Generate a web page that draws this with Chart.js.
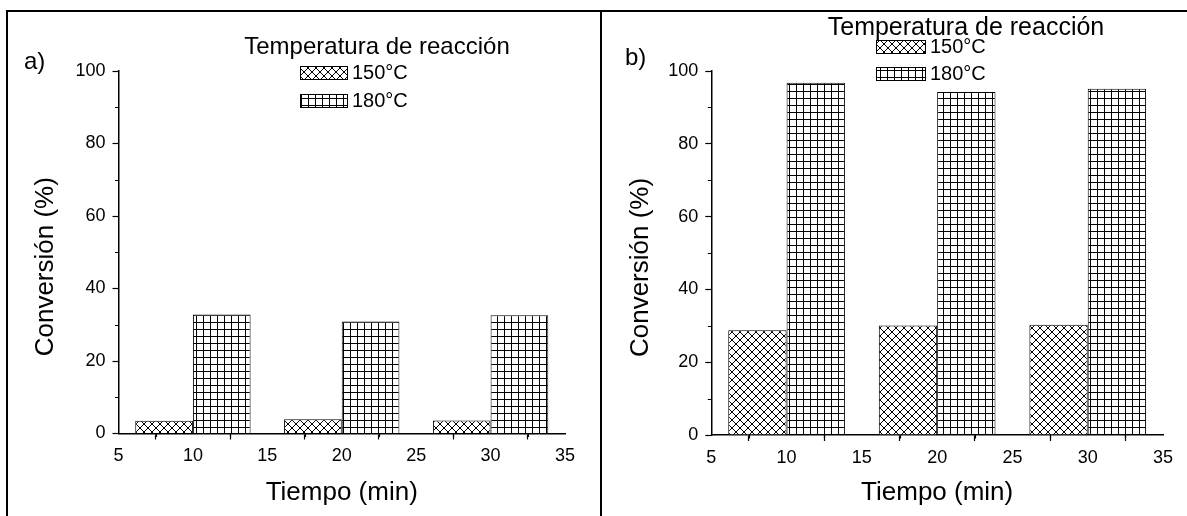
<!DOCTYPE html>
<html><head><meta charset="utf-8">
<script src="https://cdn.jsdelivr.net/npm/chart.js@4.4.0/dist/chart.umd.min.js"></script>
<style>
html,body{margin:0;padding:0;background:#fff;width:1187px;height:516px;overflow:hidden;font-family:"Liberation Sans",Arial,sans-serif}
#frame{position:absolute;left:6px;top:10px;width:1181px;height:506px;border-left:2px solid #000;border-top:2px solid #000;box-sizing:border-box}
#divider{position:absolute;left:600px;top:10px;width:2px;height:506px;background:#000}
.wrap{position:absolute;top:0;height:516px}
.plabel{position:absolute;font-size:24px;color:#000;line-height:28px}
</style></head>
<body>
<div id="frame"></div><div id="divider"></div>
<div class="wrap" style="left:0;width:600px"><canvas id="ca"></canvas></div>
<div class="wrap" style="left:600px;width:587px"><canvas id="cb"></canvas></div>
<div class="plabel" style="left:24px;top:47px">a)</div>
<div class="plabel" style="left:625px;top:43px">b)</div>
<script>
// ---- data ----
const times = [10, 20, 30];
const seriesLabels = ['150°C', '180°C'];
const convA150 = [3.5, 3.9, 3.6];
const convA180 = [32.8, 30.9, 32.6];
const convB150 = [28.8, 30.1, 30.3];
const convB180 = [96.8, 94.2, 95.1];
const xMajor = [5, 10, 15, 20, 25, 30, 35];
const xMinor = [7.5, 12.5, 17.5, 22.5, 27.5, 32.5];
const yMajor = [0, 20, 40, 60, 80, 100];
const yMinor = [10, 30, 50, 70, 90];
const legendTitle = 'Temperatura de reacción';
const xTitle = 'Tiempo (min)';
const yTitle = 'Conversión (%)';

const FONT = '"Liberation Sans", Arial, sans-serif';

function crossPattern(size){
  const c = document.createElement('canvas'); c.width = c.height = size;
  const g = c.getContext('2d');
  g.fillStyle = '#fff'; g.fillRect(0,0,size,size);
  g.strokeStyle = '#000'; g.lineWidth = 1;
  g.beginPath();
  g.moveTo(-1,-1); g.lineTo(size+1,size+1);
  g.moveTo(size+1,-1); g.lineTo(-1,size+1);
  g.stroke();
  return g.createPattern(c,'repeat');
}
function gridPattern(size){
  const c = document.createElement('canvas'); c.width = c.height = size;
  const g = c.getContext('2d');
  g.fillStyle = '#fff'; g.fillRect(0,0,size,size);
  g.fillStyle = '#000';
  g.fillRect(0,0,size,1); g.fillRect(0,0,1,size);
  return g.createPattern(c,'repeat');
}

const minorTicks = {
  id: 'minorTicks',
  afterDraw(chart){
    const ctx = chart.ctx, xs = chart.scales.x, ys = chart.scales.y;
    ctx.save(); ctx.strokeStyle = '#000'; ctx.lineWidth = 1.2;
    ctx.beginPath();
    yMinor.forEach(v => { const p = Math.round(ys.getPixelForValue(v)) + 0.5; ctx.moveTo(ys.right - 3.5, p); ctx.lineTo(ys.right, p); });
    xMinor.forEach(v => { const p = Math.round(xs.getPixelForValue(v)) + 0.5; ctx.moveTo(p, xs.top); ctx.lineTo(p, xs.top + 3.5); });
    ctx.stroke(); ctx.restore();
  }
};

const patternLegend = {
  id: 'patternLegend',
  afterDraw(chart, args, o){
    const ctx = chart.ctx;
    ctx.save();
    ctx.fillStyle = '#000';
    ctx.font = o.titleSize + 'px ' + FONT;
    ctx.textAlign = 'center'; ctx.textBaseline = 'middle';
    ctx.fillText(o.title, o.titleX, o.titleY);
    ctx.font = o.labelSize + 'px ' + FONT;
    ctx.textAlign = 'left';
    chart.data.datasets.forEach((ds, i) => {
      const cy = o.rowY[i];
      const bx = o.boxX, by = Math.round(cy - o.boxH/2);
      ctx.fillStyle = ds.backgroundColor;
      ctx.fillRect(bx, by, o.boxW, o.boxH);
      ctx.strokeStyle = '#000'; ctx.lineWidth = 1;
      ctx.strokeRect(bx + 0.5, by + 0.5, o.boxW, o.boxH);
      ctx.fillStyle = '#000';
      ctx.fillText(ds.label, bx + o.boxW + 5, cy + 1);
    });
    ctx.restore();
  }
};

function makeChart(id, v150, v180, lay, leg){
  const ds = (label, vals, bg) => ({
    label, data: times.map((t, i) => ({x: t, y: vals[i]})),
    backgroundColor: bg, borderColor: '#000', borderWidth: 1,
    categoryPercentage: 1.55, barPercentage: 1.0
  });
  return new Chart(document.getElementById(id), {
    type: 'bar',
    data: { datasets: [ ds(seriesLabels[0], v150, crossPattern(8)), ds(seriesLabels[1], v180, gridPattern(7)) ] },
    options: {
      responsive: true, maintainAspectRatio: false, animation: false,
      layout: { padding: lay.padding },
      plugins: {
        legend: { display: false }, tooltip: { enabled: false },
        patternLegend: leg
      },
      scales: {
        x: {
          type: 'linear', min: 5, max: 35, offset: false,
          afterBuildTicks: s => { s.ticks = xMajor.map(v => ({value: v})); },
          afterFit: s => { s.height = lay.xHeight; },
          ticks: { color: '#000', font: {family: FONT, size: 18}, padding: 6, maxRotation: 0 },
          grid: { drawOnChartArea: false, drawTicks: true, tickLength: 6, tickColor: '#000', tickWidth: 1.2 },
          border: { display: true, color: '#000', width: 1.5 },
          title: { display: true, text: xTitle, color: '#000', font: {family: FONT, size: 26}, padding: {top: 0, bottom: lay.xTitlePad} }
        },
        y: {
          min: 0, max: 100,
          afterBuildTicks: s => { s.ticks = yMajor.map(v => ({value: v})); },
          afterFit: s => { s.width = lay.yWidth; },
          ticks: { color: '#000', font: {family: FONT, size: 18}, padding: 7 },
          grid: { drawOnChartArea: false, drawTicks: true, tickLength: 6, tickColor: '#000', tickWidth: 1.2 },
          border: { display: true, color: '#000', width: 1.5 },
          title: { display: true, text: yTitle + '    ', color: '#000', font: {family: FONT, size: 26}, padding: {top: lay.yTitlePad, bottom: 0} }
        }
      }
    },
    plugins: [minorTicks, patternLegend]
  });
}

makeChart('ca', convA150, convA180,
  { padding: {left: 20, top: 71, right: 35, bottom: 0}, xHeight: 82.5, yWidth: 98.5, xTitlePad: 7.4, yTitlePad: 10.4 },
  { title: legendTitle, titleX: 377, titleY: 47, titleSize: 24, labelSize: 20, boxX: 300, boxW: 47, boxH: 13, rowY: [72, 100] });

makeChart('cb', convB150, convB180,
  { padding: {left: 10, top: 71, right: 24, bottom: 0}, xHeight: 81, yWidth: 101.3, xTitlePad: 7.4, yTitlePad: 15.4 },
  { title: legendTitle, titleX: 366, titleY: 28, titleSize: 25, labelSize: 20, boxX: 276, boxW: 49, boxH: 13, rowY: [46, 73] });
</script>
</body></html>
